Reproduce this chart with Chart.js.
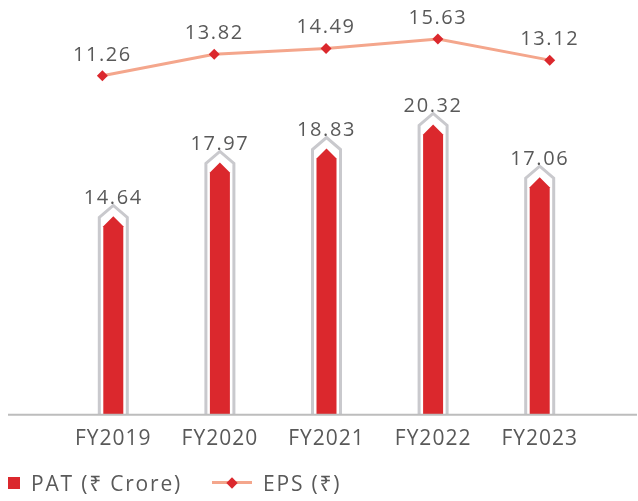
<!DOCTYPE html>
<html>
<head>
<meta charset="utf-8">
<script src="https://cdn.jsdelivr.net/npm/chart.js@4/dist/chart.umd.min.js"></script>
<style>
  body { margin: 0; background: #fff; width: 638px; height: 501px; overflow: hidden; position: relative;
         font-family: "Open Sans", "Noto Sans", "DejaVu Sans", sans-serif; color: #595959; }
  #wrap { position: absolute; left: 0; top: 0; width: 638px; height: 501px; }
  .lg { position: absolute; top: 468px; height: 30px; line-height: 30px; font-size: 21px; letter-spacing: 1.8px; white-space: nowrap; }
  .sq { position: absolute; left: 8px; top: 477px; width: 12px; height: 12px; background: #DB282D; }
  .ln { position: absolute; left: 212px; top: 481px; width: 40px; height: 3px; background: #F4A68C; }
  .dm { position: absolute; left: 228px; top: 478.5px; width: 8px; height: 8px; background: #DB282D; transform: rotate(45deg); }
</style>
</head>
<body>
<div id="wrap"><canvas id="c" width="638" height="501"></canvas></div>
<div class="sq"></div>
<div class="lg" style="left:31px">PAT (₹ Crore)</div>
<div class="ln"></div>
<div class="dm"></div>
<div class="lg" style="left:263px">EPS (₹)</div>
<script>
const years = ['FY2019', 'FY2020', 'FY2021', 'FY2022', 'FY2023'];
const pat = [14.64, 17.97, 18.83, 20.32, 17.06];
const eps = [11.26, 13.82, 14.49, 15.63, 13.12];

const TEXT = '#595959';
const FONT = '"Open Sans", "Noto Sans", "DejaVu Sans", sans-serif';

// Pencil-shaped columns: red body with pointed tip inside a grey outline
const pencilBars = {
  id: 'pencilBars',
  beforeDraw(chart) {
    chart.ctx.letterSpacing = '1px';
  },
  beforeDatasetsDraw(chart) {
    const ctx = chart.ctx;
    const bottom = chart.chartArea.bottom;
    chart.getDatasetMeta(0).data.forEach(bar => {
      const { x, y, base, width } = bar.getProps(['x', 'y', 'base', 'width'], true);
      const b = Math.min(base, bottom);
      const hw = width / 2;
      ctx.save();
      ctx.beginPath();
      ctx.moveTo(x - hw - 4, b);
      ctx.lineTo(x - hw - 4, y - 9);
      ctx.lineTo(x, y - 21);
      ctx.lineTo(x + hw + 4, y - 9);
      ctx.lineTo(x + hw + 4, b);
      ctx.strokeStyle = '#C9C9CD';
      ctx.lineWidth = 3;
      ctx.lineJoin = 'miter';
      ctx.stroke();
      ctx.beginPath();
      ctx.moveTo(x - hw, b);
      ctx.lineTo(x - hw, y);
      ctx.lineTo(x, y - 10);
      ctx.lineTo(x + hw, y);
      ctx.lineTo(x + hw, b);
      ctx.closePath();
      ctx.fillStyle = '#DB282D';
      ctx.fill();
      ctx.restore();
    });
  },
  afterDatasetsDraw(chart) {
    const ctx = chart.ctx;
    const ca = chart.chartArea;
    // baseline across the full width
    ctx.save();
    ctx.beginPath();
    ctx.moveTo(8, ca.bottom);
    ctx.lineTo(637, ca.bottom);
    ctx.strokeStyle = '#BDBDBD';
    ctx.lineWidth = 2;
    ctx.stroke();
    // value labels
    ctx.font = '400 20px ' + FONT;
    ctx.fillStyle = TEXT;
    ctx.textAlign = 'center';
    ctx.textBaseline = 'middle';
    ctx.letterSpacing = '1.6px';
    chart.getDatasetMeta(0).data.forEach((bar, i) => {
      ctx.fillText(pat[i].toFixed(2), bar.x, bar.y - 28);
    });
    chart.getDatasetMeta(1).data.forEach((pt, i) => {
      ctx.fillText(eps[i].toFixed(2), pt.x, pt.y - 21);
    });
    ctx.restore();
  },
  afterDraw(chart) {
    chart.ctx.letterSpacing = '0px';
  }
};

new Chart(document.getElementById('c'), {
  type: 'bar',
  data: {
    labels: years,
    datasets: [
      {
        label: 'PAT (₹ Crore)',
        data: pat,
        xAxisID: 'x',
        yAxisID: 'y',
        grouped: false,
        barThickness: 20,
        backgroundColor: 'rgba(0,0,0,0)',
        borderWidth: 0
      },
      {
        type: 'line',
        label: 'EPS (₹)',
        data: eps.map((v, i) => ({ x: i, y: v })),
        xAxisID: 'x2',
        yAxisID: 'y2',
        borderColor: '#F4A68C',
        borderWidth: 3,
        tension: 0,
        pointStyle: 'rectRot',
        pointRadius: 5.5,
        pointBackgroundColor: '#DB282D',
        pointBorderWidth: 0
      }
    ]
  },
  options: {
    responsive: false,
    animation: false,
    layout: { padding: { left: 60, right: 45, top: 12, bottom: 37 } },
    plugins: { legend: { display: false }, tooltip: { enabled: false } },
    scales: {
      x: {
        type: 'category',
        offset: true,
        grid: { display: false, drawTicks: false },
        border: { display: false },
        ticks: { color: TEXT, font: { family: FONT, size: 21 }, padding: 12 }
      },
      x2: { type: 'linear', display: false, offset: false, min: -0.379, max: 4.387 },
      y: { display: false, min: 3, max: 27.88 },
      y2: { display: false, min: -28.88, max: 18.82 }
    }
  },
  plugins: [pencilBars]
});
</script>
</body>
</html>
